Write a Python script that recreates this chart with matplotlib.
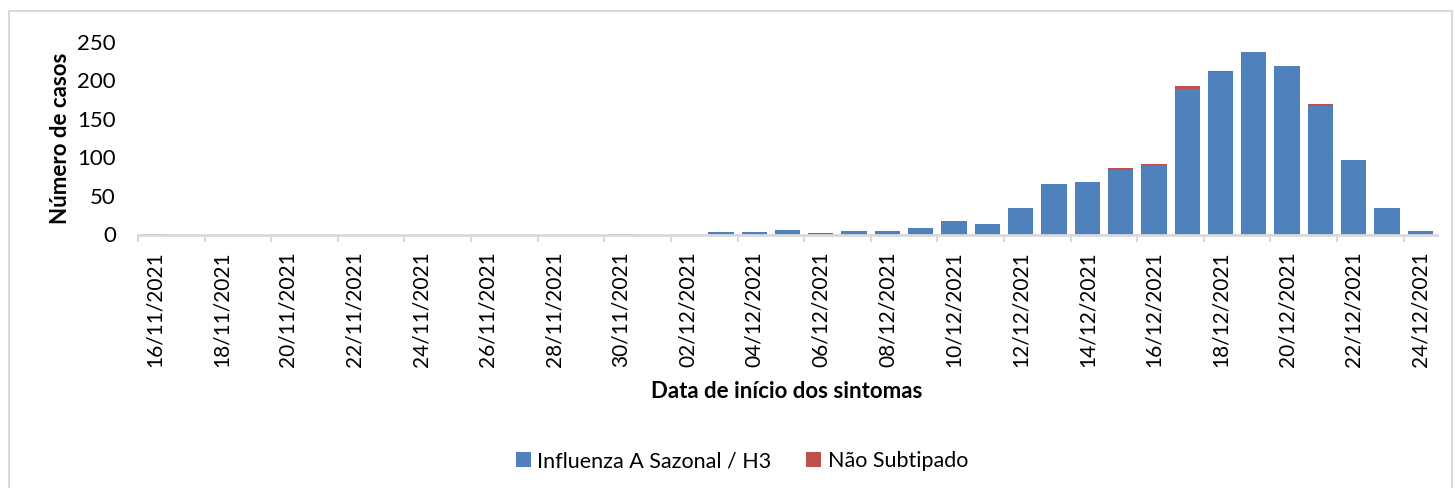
import numpy as np
import matplotlib
matplotlib.use("Agg")
import matplotlib.pyplot as plt
from matplotlib.patches import Rectangle
from datetime import date, timedelta

plt.rcParams['font.family'] = ['Lato', 'DejaVu Sans']

# --- dados ---
start = date(2021, 11, 16)
dates = [(start + timedelta(days=i)).strftime("%d/%m/%Y") for i in range(39)]

h3 = [1, 0, 0, 0, 0, 0, 0, 0, 0, 0, 0, 0, 0, 0, 1, 0, 0, 3, 3, 6,
      1, 4, 5, 8, 17, 13, 34, 65, 68, 84, 90, 189, 211, 236, 218, 166, 97, 35, 4]
nao_sub = [0, 0, 0, 0, 0, 0, 0, 0, 0, 0, 0, 0, 0, 0, 0, 0, 0, 0, 0, 0,
           1, 0, 0, 1, 0, 0, 1, 0, 0, 2, 2, 3, 1, 0, 1, 3, 0, 0, 0]

series_names = ["Influenza A Sazonal / H3", "Não Subtipado"]
colors = ["#4F81BD", "#C0504D"]

W, H = 1455, 488
fig = plt.figure(figsize=(W / 100, H / 100), dpi=100)

# moldura do gráfico (cortada no topo/direita)
fig.patches.append(Rectangle((9 / W, -0.1), (1452 - 9) / W, 1.1 - 11 / H,
                             transform=fig.transFigure, fill=False,
                             edgecolor="#D9D9D9", linewidth=1.5))

ax = fig.add_axes([138 / W, 1 - 234.5 / H, (1437 - 138) / W, (234.5 - 41.7) / H])

x = np.arange(len(dates))
ax.bar(x, h3, width=0.76, color=colors[0], linewidth=0, label=series_names[0])
ax.bar(x, nao_sub, bottom=h3, width=0.76, color=colors[1], linewidth=0,
       label=series_names[1])

ax.set_xlim(-0.5, len(dates) - 0.5)
ax.set_ylim(0, 250)
ax.set_yticks([0, 50, 100, 150, 200, 250])
ax.tick_params(axis="y", length=0, labelsize=16, pad=16)

ax.set_xticks(x[::2])
ax.set_xticklabels(dates[::2], rotation=90, fontsize=15)
ax.set_xticks(np.arange(-0.5, len(dates) - 1, 2), minor=True)
ax.tick_params(axis="x", which="major", length=0, pad=12)
ax.tick_params(axis="x", which="minor", length=5, width=1.5, color="#D9D9D9")

for s in ["top", "right", "left"]:
    ax.spines[s].set_visible(False)
ax.spines["bottom"].set_color("#D9D9D9")
ax.spines["bottom"].set_linewidth(2)

fig.text(61 / W, 1 - 138 / H, "Número de casos", fontsize=16,
         fontweight="bold", rotation=90, ha="center", va="center")
fig.text(787 / W, 1 - 392 / H, "Data de início dos sintomas", fontsize=16,
         fontweight="bold", ha="center", va="center")

fig.legend(loc="center", bbox_to_anchor=(742 / W, 1 - 461 / H), ncol=2,
           frameon=False, fontsize=15.5, handlelength=0.7, handleheight=0.7,
           handletextpad=0.3, columnspacing=1.6)

fig.savefig("out.png", dpi=100)
